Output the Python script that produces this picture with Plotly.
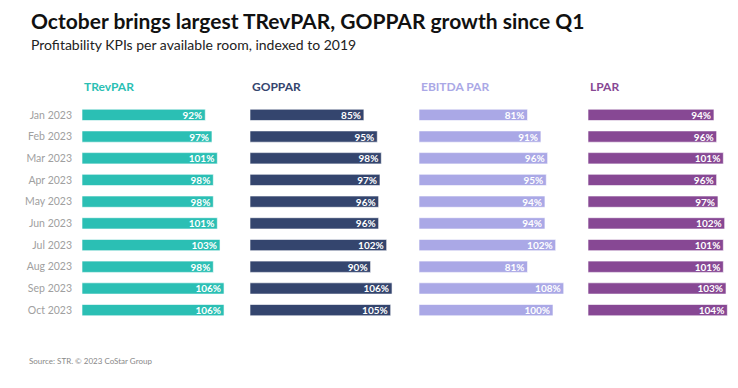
import plotly.graph_objects as go

W, H = 738, 388

months = ["Jan 2023", "Feb 2023", "Mar 2023", "Apr 2023", "May 2023",
          "Jun 2023", "Jul 2023", "Aug 2023", "Sep 2023", "Oct 2023"]
metrics = ["TRevPAR", "GOPPAR", "EBITDA PAR", "LPAR"]
trevpar = [92, 97, 101, 98, 98, 101, 103, 98, 106, 106]
goppar = [85, 95, 98, 97, 96, 96, 102, 90, 106, 105]
ebitdapar = [81, 91, 96, 95, 94, 94, 102, 81, 108, 100]
lpar = [94, 96, 101, 96, 97, 102, 101, 101, 103, 104]
series = [trevpar, goppar, ebitdapar, lpar]
colors = ["#2bbfb4", "#34456e", "#aaa8e6", "#874894"]

FONT = "Lato"

def px(x):
    return x / W

def py(y):
    return 1 - y / H

starts = [82, 250, 419, 588]
pw = 148
scale = 1.34
xmax = pw / scale
ytop, ybot = 104, 321

fig = go.Figure()
for i, (name, vals, col) in enumerate(zip(metrics, series, colors)):
    ax = "" if i == 0 else str(i + 1)
    fig.add_trace(go.Bar(
        y=months, x=vals, orientation="h", name=name,
        marker=dict(color=col, line=dict(color="rgba(255,255,255,0.6)", width=1)),
        width=0.52,
        text=[f"{v}%" for v in vals], texttemplate="%{text}",
        textposition="inside", insidetextanchor="end", constraintext="none",
        textfont=dict(family=FONT, size=10, color="white", weight="bold"),
        xaxis="x" + ax, yaxis="y" + ax, showlegend=False, hoverinfo="skip",
    ))
    layout_x = dict(domain=[px(starts[i]), px(starts[i] + pw)], range=[0, xmax],
                    visible=False, fixedrange=True)
    layout_y = dict(domain=[py(ybot), py(ytop)], autorange="reversed",
                    showgrid=False, zeroline=False, showline=False,
                    showticklabels=(i == 0), ticks="", anchor="x" + ax,
                    tickfont=dict(family=FONT, size=10.5, color="#a0a0a0"),
                    ticklabelstandoff=9, fixedrange=True)
    layout_x["anchor"] = "y" + ax
    fig.layout["xaxis" + ax] = layout_x
    fig.layout["yaxis" + ax] = layout_y
    fig.add_annotation(x=px(starts[i]), y=py(86), xref="paper", yref="paper",
                       text=f"<b>{name}</b>", showarrow=False, xanchor="left",
                       yanchor="middle",
                       font=dict(family=FONT, size=12, color=col))

fig.add_annotation(x=px(29), y=py(20), xref="paper", yref="paper",
                   text="<b>October brings largest TRevPAR, GOPPAR growth since Q1</b>",
                   showarrow=False, xanchor="left", yanchor="middle",
                   font=dict(family=FONT, size=21, color="#111111"))
fig.add_annotation(x=px(29), y=py(44), xref="paper", yref="paper",
                   text="Profitability KPIs per available room, indexed to 2019",
                   showarrow=False, xanchor="left", yanchor="middle",
                   font=dict(family=FONT, size=14, color="#222222"))
fig.add_annotation(x=px(27), y=py(361), xref="paper", yref="paper",
                   text="Source: STR. © 2023 CoStar Group",
                   showarrow=False, xanchor="left", yanchor="middle",
                   font=dict(family=FONT, size=8, color="#888888"))

fig.update_layout(width=W, height=H, margin=dict(l=0, r=0, t=0, b=0),
                  paper_bgcolor="white", plot_bgcolor="white", bargap=0.45)

fig.write_html("out.html", config={"displayModeBar": False, "staticPlot": True},
               post_script="document.body.style.margin='0px';document.body.style.overflow='hidden';")
